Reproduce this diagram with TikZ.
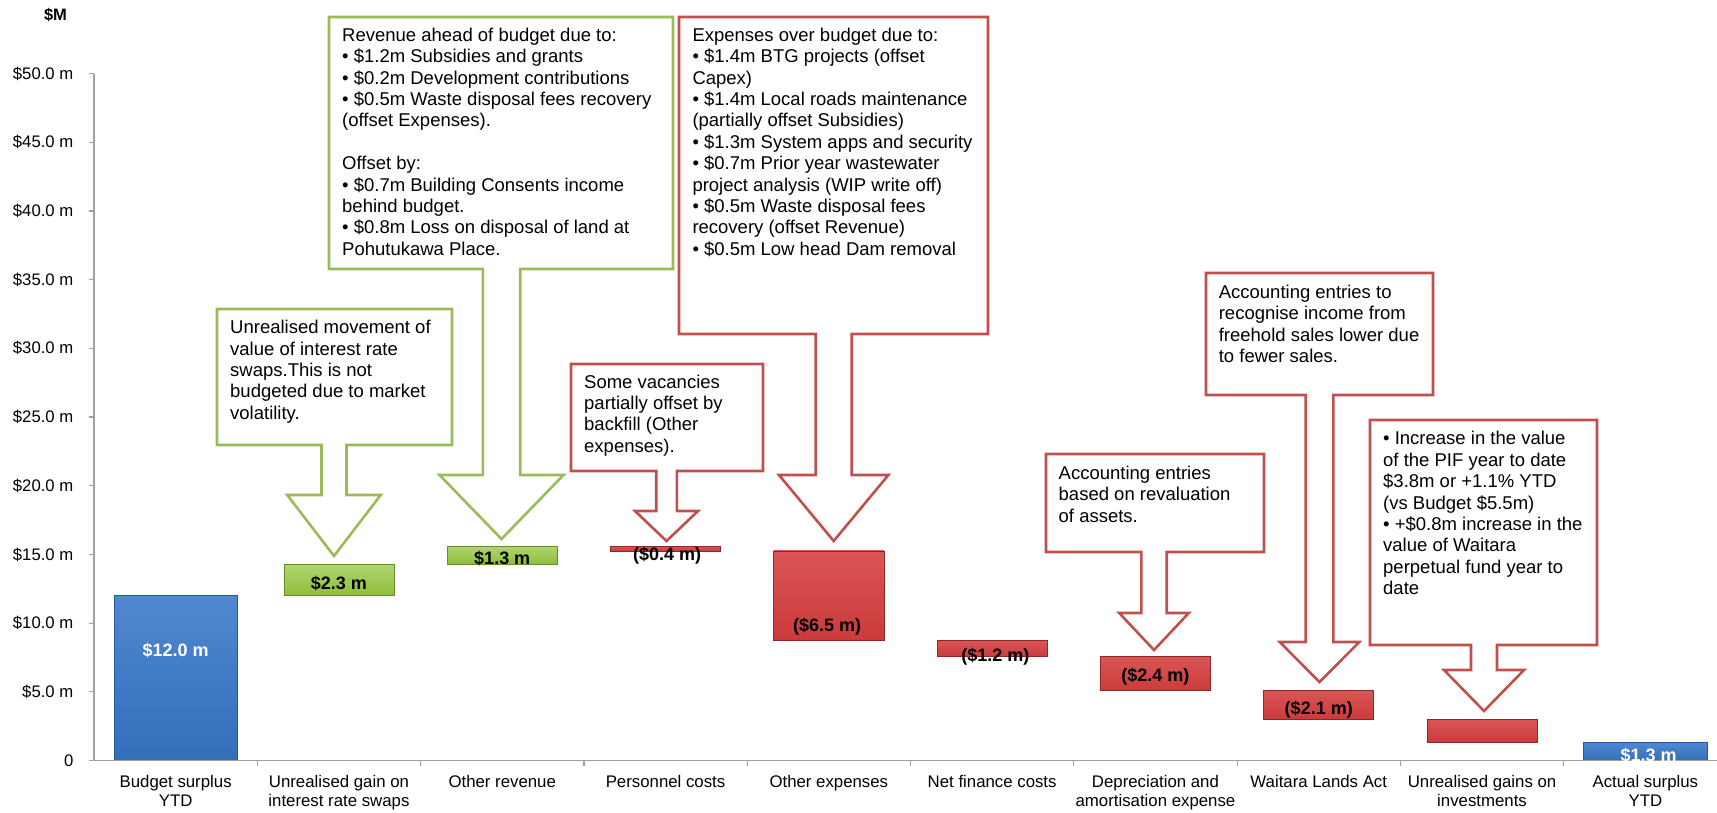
\documentclass[tikz,border=0pt]{standalone}
\usepackage{fontspec}
\setmainfont{Liberation Sans}
\definecolor{callgreen}{RGB}{155,187,89}
\definecolor{callred}{RGB}{192,80,77}
\definecolor{barblue}{RGB}{56,120,202}
\definecolor{barbluedark}{RGB}{38,88,160}
\definecolor{bargreen}{RGB}{150,200,62}
\definecolor{bargreendark}{RGB}{104,140,44}
\definecolor{barred}{RGB}{214,62,62}
\definecolor{barreddark}{RGB}{140,40,40}
\definecolor{axisgrey}{RGB}{160,160,160}

\begin{document}
\begin{tikzpicture}[x=1pt, y=-1pt,
  note/.style={anchor=north west, inner sep=0pt, align=left, font=\fontsize{18.5}{21.4}\selectfont},
  greencall/.style={draw=callgreen, line width=2.6pt, fill=white},
  redcall/.style={draw=callred, line width=2.6pt, fill=white},
  totalbar/.style={draw=barbluedark, line width=0.7pt, top color=barblue!88!white, bottom color=barblue!92!black},
  upbar/.style={draw=bargreendark, line width=0.7pt, top color=bargreen!75!white, bottom color=bargreen!95!black},
  downbar/.style={draw=barreddark, line width=0.7pt, top color=barred!88!white, bottom color=barred!95!black},
  barlab/.style={inner sep=0pt, font=\fontsize{18}{20}\selectfont\bfseries},
  axisline/.style={draw=axisgrey, line width=1.2pt},
  ylab/.style={anchor=east, inner sep=0pt, font=\fontsize{16.7}{19}\selectfont},
  catlab/.style={anchor=north, inner sep=0pt, align=center, font=\fontsize{16.8}{19.3}\selectfont}]
\useasboundingbox (0,0) rectangle (1717,812);

% Unit
\node[inner sep=0pt, font=\fontsize{16.5}{19}\selectfont\bfseries] (unit) at (55.5,15) {\$M};

% Chart in $M
\begin{scope}[shift={(94,760.5)}, x=163.3pt, y=13.74pt]
  % Bars
  \draw[totalbar] (0.123,0) rectangle (0.877,12.0);
  \draw[upbar] (1.163,12.0) rectangle (1.837,14.3);
  \draw[upbar] (2.163,14.3) rectangle (2.837,15.6);
  \draw[downbar] (3.163,15.6) rectangle (3.837,15.25);
  \draw[downbar] (4.163,15.25) rectangle (4.837,8.75);
  \draw[downbar] (5.163,8.75) rectangle (5.837,7.55);
  \draw[downbar] (6.163,7.55) rectangle (6.837,5.1);
  \draw[downbar] (7.163,5.1) rectangle (7.837,3.02);
  \draw[downbar] (8.163,3.02) rectangle (8.837,1.3);
  \draw[totalbar] (9.123,1.3) rectangle (9.877,0);

  % Axes
  \draw[axisline] (0,50) -- (0,0) -- (9.94,0);
  \foreach \v in {0,5,...,50}
    \draw[axisline] ([xshift=-5pt]0,\v) -- (0,\v);
  \foreach \i in {1,...,9}
    \draw[axisline] (\i,0) -- ([yshift=-5pt]\i,0);
  \node[ylab] (y0) at ([xshift=-20.5pt]0,0) {0};
  \foreach \v in {5,10,...,50}
    \node[ylab] (y\v) at ([xshift=-20.5pt]0,\v) {\$\v.0 m};

  % Categories
  \foreach \i/\t in {0/{Budget surplus\\YTD}, 1/{Unrealised gain on\\interest rate swaps},
      2/{Other revenue}, 3/{Personnel costs}, 4/{Other expenses}, 5/{Net finance costs},
      6/{Depreciation and\\amortisation expense}, 7/{Waitara Lands Act},
      8/{Unrealised gains on\\investments}, 9/{Actual surplus\\YTD}}
    \node[catlab] (cat\i) at ([yshift=-14.5pt]\i+0.5,0) {\t};

  % Bar values
  \node[barlab, white] (lbudget) at (0.5,8.04) {\$12.0 m};
  \node[barlab] (lswaps) at (1.5,12.92) {\$2.3 m};
  \node[barlab] (lrevenue) at (2.5,14.67) {\$1.3 m};
  \node[barlab] (lstaff) at (3.51,14.88) {(\$0.4 m)};
  \node[barlab] (lexpenses) at (4.49,9.74) {(\$6.5 m)};
  \node[barlab] (lfinance) at (5.52,7.55) {(\$1.2 m)};
  \node[barlab] (ldepreciation) at (6.5,6.08) {(\$2.4 m)};
  \node[barlab] (lwaitara) at (7.5,3.68) {(\$2.1 m)};
  \node[barlab, white] (lactual) at (9.52,0.4) {\$1.3 m};
\end{scope}

% Callouts
\draw[greencall] (217,309) -- (452,309) -- (452,445) -- (346.5,445) -- (346.5,495) -- (380.7,495)
  -- (334,556) -- (287.3,495) -- (321.5,495) -- (321.5,445) -- (217,445) -- cycle;
\node[note] (swapnote) at (230,320) {Unrealised movement of\\value of interest rate\\swaps.This is not\\budgeted due to market\\volatility.};

\draw[greencall] (329,17) -- (673,17) -- (673,269) -- (520.2,269) -- (520.2,475) -- (563.5,475)
  -- (501.5,539) -- (439.5,475) -- (482.8,475) -- (482.8,269) -- (329,269) -- cycle;
\node[note] (revnote) at (342,27.6) {Revenue ahead of budget due to:\\%
  • \$1.2m Subsidies and grants\\%
  • \$0.2m Development contributions\\%
  • \$0.5m Waste disposal fees recovery\\%
  (offset Expenses).\\[21.4pt]%
  Offset by:\\%
  • \$0.7m Building Consents income\\%
  behind budget.\\%
  • \$0.8m Loss on disposal of land at\\%
  Pohutukawa Place.};

\draw[redcall] (571,364) -- (763,364) -- (763,471) -- (676.8,471) -- (676.8,511) -- (698,511)
  -- (666.5,541) -- (635,511) -- (656.2,511) -- (656.2,471) -- (571,471) -- cycle;
\node[note] (staffnote) at (584,374.4) {Some vacancies\\partially offset by\\backfill (Other\\expenses).};

\draw[redcall] (679,17) -- (988,17) -- (988,334) -- (851.7,334) -- (851.7,475) -- (888.4,475)
  -- (833.7,541) -- (779,475) -- (815.7,475) -- (815.7,334) -- (679,334) -- cycle;
\node[note] (expnote) at (692.3,27.6) {Expenses over budget due to:\\%
  • \$1.4m BTG projects (offset\\%
  Capex)\\%
  • \$1.4m Local roads maintenance\\%
  (partially offset Subsidies)\\%
  • \$1.3m System apps and security\\%
  • \$0.7m Prior year wastewater\\%
  project analysis (WIP write off)\\%
  • \$0.5m Waste disposal fees\\%
  recovery (offset Revenue)\\%
  • \$0.5m Low head Dam removal};

\draw[redcall] (1046,454) -- (1264,454) -- (1264,552) -- (1166.7,552) -- (1166.7,613) -- (1188.8,613)
  -- (1154,650) -- (1119.2,613) -- (1141.3,613) -- (1141.3,552) -- (1046,552) -- cycle;
\node[note] (depnote) at (1058.5,465.7) {Accounting entries\\based on revaluation\\of assets.};

\draw[redcall] (1206,273) -- (1433,273) -- (1433,395) -- (1333.3,395) -- (1333.3,642) -- (1359.3,642)
  -- (1319.5,682) -- (1279.7,642) -- (1305.7,642) -- (1305.7,395) -- (1206,395) -- cycle;
\node[note] (landnote) at (1218.6,284.7) {Accounting entries to\\recognise income from\\freehold sales lower due\\to fewer sales.};

\draw[redcall] (1370,420) -- (1597,420) -- (1597,645) -- (1497,645) -- (1497,670) -- (1524,670)
  -- (1484,711) -- (1444,670) -- (1471,670) -- (1471,645) -- (1370,645) -- cycle;
\node[note] (pifnote) at (1383,431.3) {• Increase in the value\\of the PIF year to date\\\$3.8m or +1.1\% YTD\\(vs Budget \$5.5m)\\• +\$0.8m increase in the\\value of Waitara\\perpetual fund year to\\date};
\end{tikzpicture}
\end{document}
